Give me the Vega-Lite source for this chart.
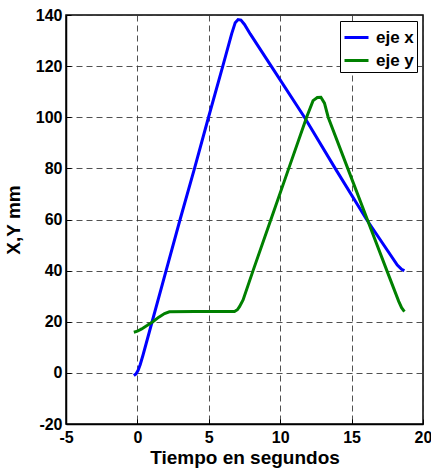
{
  "$schema": "https://vega.github.io/schema/vega-lite/v6.json",
  "width": 357,
  "height": 409,
  "autosize": {"type": "none"},
  "padding": {"left": 66, "top": 15, "right": 8, "bottom": 44},
  "background": "#ffffff",
  "config": {
    "view": {"stroke": "#000000", "strokeWidth": 1.5},
    "font": "Liberation Sans",
    "axis": {
      "labelFont": "Liberation Sans",
      "labelFontWeight": "bold",
      "labelFontSize": 16,
      "labelColor": "#000000",
      "titleFont": "Liberation Sans",
      "titleFontWeight": "bold",
      "titleFontSize": 19,
      "titleColor": "#000000",
      "domainColor": "#000000",
      "domainWidth": 1.5,
      "tickColor": "#000000",
      "tickSize": -5,
      "gridColor": "#333333",
      "gridDash": [6, 4],
      "gridWidth": 1,
      "gridOpacity": 0.85,
      "labelExpr": "datum.value < 0 ? '-' + abs(datum.value) : '' + datum.value"
    },
    "legend": {
      "orient": "top-right",
      "offset": 6,
      "strokeColor": "#000000",
      "fillColor": "#ffffff",
      "padding": 3,
      "labelFont": "Liberation Sans",
      "labelFontWeight": "bold",
      "labelFontSize": 17,
      "labelColor": "#000000",
      "labelOffset": 6,
      "symbolType": "stroke",
      "symbolStrokeWidth": 3,
      "symbolSize": 576,
      "rowPadding": 1
    }
  },
  "data": {
    "values": [
      {"t": -0.25, "v": -1, "serie": "eje x"},
      {"t": -0.1, "v": -0.4, "serie": "eje x"},
      {"t": 0.05, "v": 1.0, "serie": "eje x"},
      {"t": 0.2, "v": 3.3, "serie": "eje x"},
      {"t": 0.4, "v": 7.1, "serie": "eje x"},
      {"t": 0.6, "v": 11.2, "serie": "eje x"},
      {"t": 1.03, "v": 20, "serie": "eje x"},
      {"t": 2.01, "v": 40, "serie": "eje x"},
      {"t": 2.99, "v": 60, "serie": "eje x"},
      {"t": 4.0, "v": 80, "serie": "eje x"},
      {"t": 4.98, "v": 100, "serie": "eje x"},
      {"t": 5.98, "v": 120, "serie": "eje x"},
      {"t": 6.6, "v": 132.6, "serie": "eje x"},
      {"t": 6.85, "v": 137, "serie": "eje x"},
      {"t": 7.05, "v": 138.2, "serie": "eje x"},
      {"t": 7.25, "v": 138, "serie": "eje x"},
      {"t": 7.5, "v": 136.3, "serie": "eje x"},
      {"t": 7.9, "v": 132.6, "serie": "eje x"},
      {"t": 9.37, "v": 120, "serie": "eje x"},
      {"t": 11.7, "v": 100, "serie": "eje x"},
      {"t": 13.85, "v": 80, "serie": "eje x"},
      {"t": 16.05, "v": 60, "serie": "eje x"},
      {"t": 18.2, "v": 42.2, "serie": "eje x"},
      {"t": 18.5, "v": 40.5, "serie": "eje x"},
      {"t": 18.7, "v": 40, "serie": "eje x"},
      {"t": -0.25, "v": 15.9, "serie": "eje y"},
      {"t": 0.0, "v": 16.3, "serie": "eje y"},
      {"t": 0.3, "v": 17.2, "serie": "eje y"},
      {"t": 0.7, "v": 18.6, "serie": "eje y"},
      {"t": 1.08, "v": 20, "serie": "eje y"},
      {"t": 1.5, "v": 21.8, "serie": "eje y"},
      {"t": 1.9, "v": 23.2, "serie": "eje y"},
      {"t": 2.24, "v": 23.9, "serie": "eje y"},
      {"t": 4.0, "v": 24, "serie": "eje y"},
      {"t": 6.8, "v": 24, "serie": "eje y"},
      {"t": 7.0, "v": 24.7, "serie": "eje y"},
      {"t": 7.15, "v": 25.9, "serie": "eje y"},
      {"t": 7.4, "v": 28.5, "serie": "eje y"},
      {"t": 8.1, "v": 40, "serie": "eje y"},
      {"t": 9.35, "v": 60, "serie": "eje y"},
      {"t": 10.6, "v": 80, "serie": "eje y"},
      {"t": 11.85, "v": 100, "serie": "eje y"},
      {"t": 12.3, "v": 106.5, "serie": "eje y"},
      {"t": 12.6, "v": 107.7, "serie": "eje y"},
      {"t": 12.85, "v": 107.8, "serie": "eje y"},
      {"t": 13.1, "v": 105.5, "serie": "eje y"},
      {"t": 13.36, "v": 100, "serie": "eje y"},
      {"t": 14.73, "v": 80, "serie": "eje y"},
      {"t": 16.1, "v": 60, "serie": "eje y"},
      {"t": 17.47, "v": 40, "serie": "eje y"},
      {"t": 18.3, "v": 28, "serie": "eje y"},
      {"t": 18.5, "v": 25.5, "serie": "eje y"},
      {"t": 18.7, "v": 24, "serie": "eje y"}
    ]
  },
  "mark": {"type": "line", "strokeWidth": 3, "interpolate": "linear"},
  "encoding": {
    "x": {
      "field": "t",
      "type": "quantitative",
      "scale": {"domain": [-5, 20], "nice": false, "zero": false},
      "axis": {"values": [-5, 0, 5, 10, 15, 20], "title": "Tiempo en segundos", "labelPadding": 10, "titlePadding": 3, "labelFlush": false}
    },
    "y": {
      "field": "v",
      "type": "quantitative",
      "scale": {"domain": [-20, 140], "nice": false, "zero": false},
      "axis": {"values": [-20, 0, 20, 40, 60, 80, 100, 120, 140], "title": "X,Y mm", "labelPadding": 9, "titlePadding": 12, "labelFlush": false}
    },
    "color": {
      "field": "serie",
      "type": "nominal",
      "scale": {"domain": ["eje x", "eje y"], "range": ["#0000ff", "#008000"]},
      "legend": {"title": null}
    },
    "order": {"field": "t", "type": "quantitative"}
  }
}
